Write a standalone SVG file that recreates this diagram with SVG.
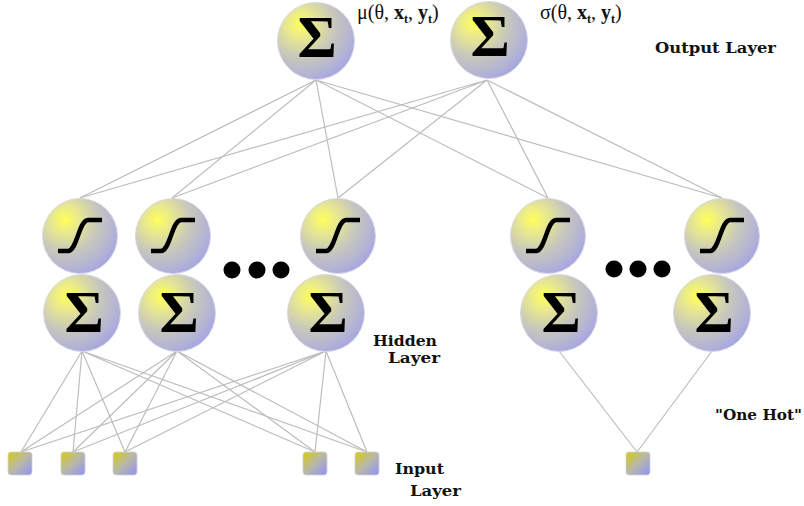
<svg xmlns="http://www.w3.org/2000/svg" width="804" height="506" viewBox="0 0 804 506">
<style>
.ln{stroke:#bdbdbd;stroke-width:1.2;fill:none}
.ball{fill:url(#rg);stroke:#d8d8e8;stroke-width:1}
.sq{fill:url(#lg);stroke:#d0d0e0;stroke-width:0.8}
.sig{font-family:"Liberation Serif","DejaVu Serif",serif;font-weight:bold;font-size:60px;fill:#000;text-anchor:middle}
.sg{stroke:#000;stroke-width:4.5;fill:none;stroke-linejoin:round}
.lbl{font-family:"DejaVu Serif","Liberation Serif",serif;font-weight:bold;font-size:14px;fill:#111}
.math{font-family:"Liberation Serif","DejaVu Serif",serif;font-size:20px;fill:#111}
.dot{fill:#000}
</style>
<defs>
<radialGradient id="rg" cx="0.32" cy="0.3" r="0.85" fx="0.3" fy="0.28">
<stop offset="0" stop-color="#ffff5a"/>
<stop offset="0.22" stop-color="#e8e890"/>
<stop offset="0.5" stop-color="#c8c8bc"/>
<stop offset="0.78" stop-color="#b2b2d6"/>
<stop offset="1" stop-color="#9c9cec"/>
</radialGradient>
<linearGradient id="lg" x1="0" y1="0" x2="1" y2="1">
<stop offset="0" stop-color="#d8cc10"/>
<stop offset="0.5" stop-color="#b8b8a8"/>
<stop offset="1" stop-color="#9090f8"/>
</linearGradient>
<path id="sigm" class="sg" d="M-22 15 L-12 15 C-3 15 -1 -16 8 -16 L22 -16"/>
</defs>
<g id="connectors">
<path class="ln" d="M316 80L80 198M316 80L172 198M316 80L338 198M316 80L548 198M316 80L722 198"/>
<path class="ln" d="M487 80L80 198M487 80L172 198M487 80L338 198M487 80L548 198M487 80L722 198"/>
<path class="ln" d="M82 351L21 452M82 351L73 452M82 351L125 452M82 351L315 452M82 351L367 452"/>
<path class="ln" d="M177 351L21 452M177 351L73 452M177 351L125 452M177 351L315 452M177 351L367 452"/>
<path class="ln" d="M326 351L21 452M326 351L73 452M326 351L125 452M326 351L315 452M326 351L367 452"/>
<path class="ln" d="M559 351L637 452M712 351L637 452"/>
</g>
<g id="out-mu"><circle class="ball" cx="316" cy="41" r="38.5"/><text class="sig" x="317" y="57">Σ</text></g>
<g id="out-sigma"><circle class="ball" cx="489" cy="40" r="38.5"/><text class="sig" x="490" y="56">Σ</text></g>
<g id="sig1"><circle class="ball" cx="80" cy="236" r="37.5"/><use href="#sigm" x="80" y="236"/></g>
<g id="sig2"><circle class="ball" cx="173" cy="236" r="37.5"/><use href="#sigm" x="173" y="236"/></g>
<g id="sig3"><circle class="ball" cx="338" cy="236" r="37.5"/><use href="#sigm" x="338" y="236"/></g>
<g id="sig4"><circle class="ball" cx="548" cy="236" r="37.5"/><use href="#sigm" x="548" y="236"/></g>
<g id="sig5"><circle class="ball" cx="722" cy="236" r="37.5"/><use href="#sigm" x="722" y="236"/></g>
<g id="sum1"><circle class="ball" cx="82" cy="313" r="38.5"/><text class="sig" x="84" y="332">Σ</text></g>
<g id="sum2"><circle class="ball" cx="177" cy="313" r="38.5"/><text class="sig" x="179" y="332">Σ</text></g>
<g id="sum3"><circle class="ball" cx="326" cy="313" r="38.5"/><text class="sig" x="328" y="332">Σ</text></g>
<g id="sum4"><circle class="ball" cx="559" cy="313" r="38.5"/><text class="sig" x="561" y="332">Σ</text></g>
<g id="sum5"><circle class="ball" cx="712" cy="313" r="38.5"/><text class="sig" x="714" y="332">Σ</text></g>
<g id="dots-left"><circle class="dot" cx="232" cy="270" r="8.5"/><circle class="dot" cx="257" cy="270" r="8.5"/><circle class="dot" cx="281" cy="270" r="8.5"/></g>
<g id="dots-right"><circle class="dot" cx="614" cy="269" r="8.5"/><circle class="dot" cx="638" cy="269" r="8.5"/><circle class="dot" cx="662" cy="269" r="8.5"/></g>
<g id="in1"><rect class="sq" x="8" y="452" width="24" height="23" rx="3"/></g>
<g id="in2"><rect class="sq" x="61" y="452" width="24" height="23" rx="3"/></g>
<g id="in3"><rect class="sq" x="113" y="452" width="24" height="23" rx="3"/></g>
<g id="in4"><rect class="sq" x="303" y="452" width="24" height="23" rx="3"/></g>
<g id="in5"><rect class="sq" x="355" y="452" width="24" height="23" rx="3"/></g>
<g id="in6"><rect class="sq" x="626" y="452" width="24" height="23" rx="3"/></g>
<g id="labels">
<text class="math" x="357" y="19">μ(θ, <tspan font-weight="bold">x</tspan><tspan font-size="12" dy="4" font-weight="bold">t</tspan><tspan dy="-4">, </tspan><tspan font-weight="bold">y</tspan><tspan font-size="12" dy="4" font-weight="bold">t</tspan><tspan dy="-4">)</tspan></text>
<text class="math" x="540" y="19">σ(θ, <tspan font-weight="bold">x</tspan><tspan font-size="12" dy="4" font-weight="bold">t</tspan><tspan dy="-4">, </tspan><tspan font-weight="bold">y</tspan><tspan font-size="12" dy="4" font-weight="bold">t</tspan><tspan dy="-4">)</tspan></text>
<text class="lbl" x="655" y="53" textLength="121" lengthAdjust="spacingAndGlyphs">Output Layer</text>
<text class="lbl" x="373" y="346" textLength="64" lengthAdjust="spacingAndGlyphs">Hidden</text>
<text class="lbl" x="388" y="363" textLength="52" lengthAdjust="spacingAndGlyphs">Layer</text>
<text class="lbl" x="395" y="474" textLength="49" lengthAdjust="spacingAndGlyphs">Input</text>
<text class="lbl" x="410" y="496" textLength="51" lengthAdjust="spacingAndGlyphs">Layer</text>
<text class="lbl" x="715" y="420" textLength="87" lengthAdjust="spacingAndGlyphs">"One Hot"</text>
</g>
</svg>
